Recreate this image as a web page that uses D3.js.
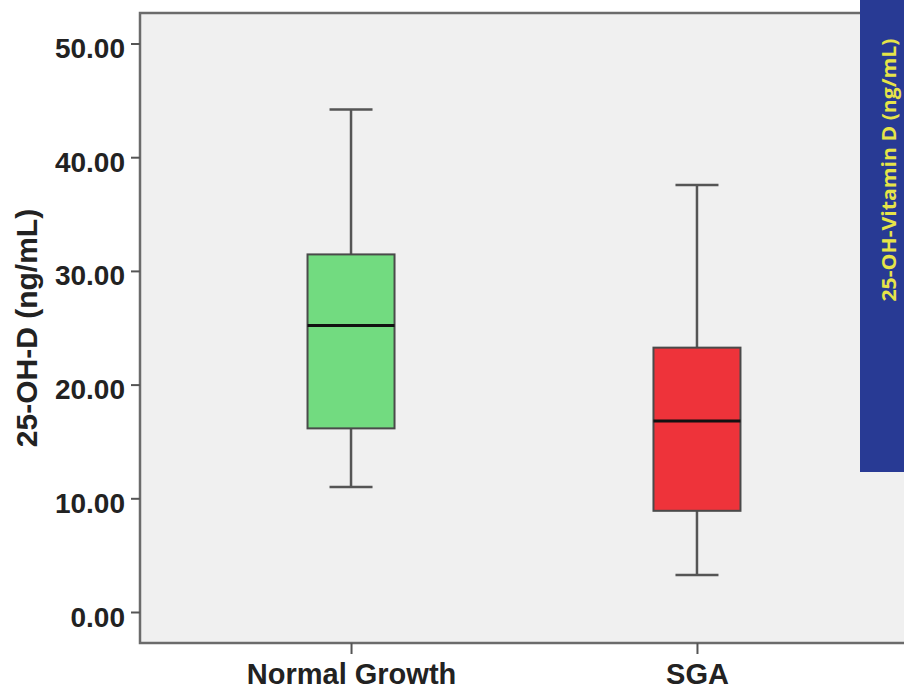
<!DOCTYPE html>
<html>
<head>
<meta charset="utf-8">
<script src="https://cdn.jsdelivr.net/npm/d3@7"></script>
<style>
  body { margin: 0; background: #fff; }
  svg { display: block; }
</style>
</head>
<body>
<div id="chart"></div>
<script>
// Box plot values
const categories = ["Normal Growth", "SGA"];
const whiskerLow = [11.0, 3.25];
const q1 = [16.15, 8.9];
const median = [25.2, 16.8];
const q3 = [31.45, 23.25];
const whiskerHigh = [44.2, 37.55];
const boxColors = ["#72DB80", "#EE333A"];
const yTicks = [0, 10, 20, 30, 40, 50];

const width = 904, height = 690;
const plot = { left: 140, top: 13, bottom: 643, right: 908 };

const svg = d3.select("#chart")
    .append("svg")
    .attr("width", width)
    .attr("height", height);

// Scales
const y = d3.scaleLinear()
    .domain([0, 50])
    .range([612, 43.5]);

const x = d3.scalePoint()
    .domain(categories)
    .range([plot.left, plot.right])
    .padding(0.61);

const boxWidth = 87;
const capWidth = 43;

// Plot background
svg.append("rect")
    .attr("x", plot.left)
    .attr("y", plot.top)
    .attr("width", width - plot.left)
    .attr("height", plot.bottom - plot.top)
    .attr("fill", "#F0F0F0");

// Frame lines (left, top, bottom)
svg.append("path")
    .attr("d", `M${width},${plot.top}H${plot.left}V${plot.bottom}H${width}`)
    .attr("fill", "none")
    .attr("stroke", "#6b6b6b")
    .attr("stroke-width", 2.5);

// Y axis
const yAxis = svg.append("g")
    .attr("transform", `translate(${plot.left},0)`)
    .call(d3.axisLeft(y)
        .tickValues(yTicks)
        .tickFormat(d3.format(".2f"))
        .tickSize(9)
        .tickPadding(6));
yAxis.select(".domain").remove();
yAxis.selectAll("line").attr("stroke", "#555").attr("stroke-width", 2);
yAxis.selectAll("text")
    .attr("dy", null)
    .attr("y", 14)
    .style("font-family", "Liberation Sans, Arial, sans-serif")
    .style("font-weight", "bold")
    .style("font-size", "28px")
    .attr("fill", "#222");

// X axis
const xAxis = svg.append("g")
    .attr("transform", `translate(0,${plot.bottom})`)
    .call(d3.axisBottom(x).tickSize(11).tickPadding(9));
xAxis.select(".domain").remove();
xAxis.selectAll("line").attr("stroke", "#555").attr("stroke-width", 2);
xAxis.selectAll("text")
    .style("font-family", "Liberation Sans, Arial, sans-serif")
    .style("font-weight", "bold")
    .style("font-size", "29px")
    .attr("fill", "#222");

// Y axis title
svg.append("text")
    .attr("transform", `translate(37,${(plot.top + plot.bottom) / 2}) rotate(-90)`)
    .attr("text-anchor", "middle")
    .style("font-family", "Liberation Sans, Arial, sans-serif")
    .style("font-weight", "bold")
    .style("font-size", "30px")
    .attr("fill", "#222")
    .text("25-OH-D (ng/mL)");

// Boxes
const boxes = svg.selectAll(".box")
    .data(categories)
    .enter().append("g")
    .attr("class", "box");

// whisker stems
boxes.append("line")
    .attr("x1", d => x(d)).attr("x2", d => x(d))
    .attr("y1", (d, i) => y(whiskerHigh[i]))
    .attr("y2", (d, i) => y(q3[i]))
    .attr("stroke", "#555").attr("stroke-width", 2.5);
boxes.append("line")
    .attr("x1", d => x(d)).attr("x2", d => x(d))
    .attr("y1", (d, i) => y(q1[i]))
    .attr("y2", (d, i) => y(whiskerLow[i]))
    .attr("stroke", "#555").attr("stroke-width", 2.5);

// whisker caps
[whiskerHigh, whiskerLow].forEach(arr => {
    boxes.append("line")
        .attr("x1", d => x(d) - capWidth / 2)
        .attr("x2", d => x(d) + capWidth / 2)
        .attr("y1", (d, i) => y(arr[i]))
        .attr("y2", (d, i) => y(arr[i]))
        .attr("stroke", "#555").attr("stroke-width", 2.5);
});

// IQR box
boxes.append("rect")
    .attr("x", d => x(d) - boxWidth / 2)
    .attr("y", (d, i) => y(q3[i]))
    .attr("width", boxWidth)
    .attr("height", (d, i) => y(q1[i]) - y(q3[i]))
    .attr("fill", (d, i) => boxColors[i])
    .attr("stroke", "#4a4a4a")
    .attr("stroke-width", 2);

// median
boxes.append("line")
    .attr("x1", d => x(d) - boxWidth / 2)
    .attr("x2", d => x(d) + boxWidth / 2)
    .attr("y1", (d, i) => y(median[i]))
    .attr("y2", (d, i) => y(median[i]))
    .attr("stroke", "#111").attr("stroke-width", 3);

// Blue side panel with its label
svg.append("rect")
    .attr("x", 860).attr("y", 0)
    .attr("width", 44).attr("height", 472)
    .attr("fill", "#283A94");

svg.append("text")
    .attr("transform", "translate(896,170) rotate(-90)")
    .attr("text-anchor", "middle")
    .attr("textLength", 263)
    .attr("lengthAdjust", "spacingAndGlyphs")
    .style("font-family", "Open Sans, sans-serif")
    .style("font-weight", "bold")
    .style("font-size", "19px")
    .attr("fill", "#E6E448")
    .text("25-OH-Vitamin D (ng/mL)");
</script>
</body>
</html>
